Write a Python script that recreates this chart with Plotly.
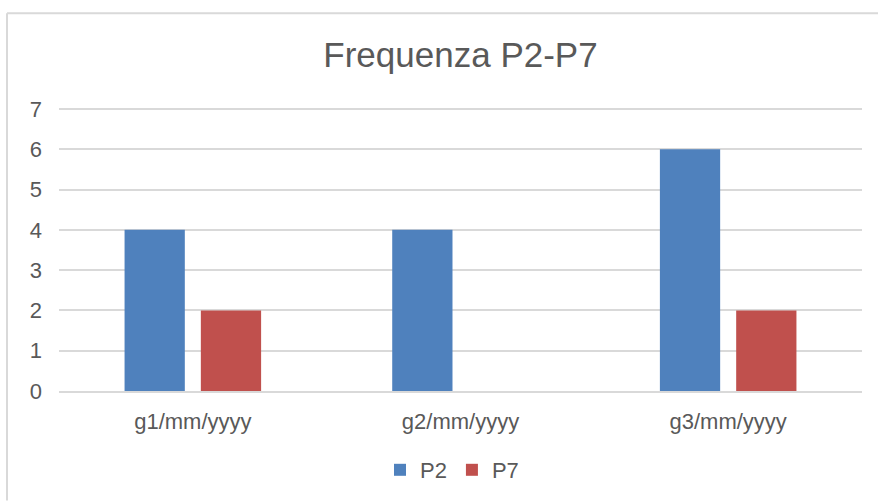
import plotly.graph_objects as go

categories = ['g1/mm/yyyy', 'g2/mm/yyyy', 'g3/mm/yyyy']
p2_values = [4, 4, 6]
p7_values = [2, 0, 2]
y_ticks = [0, 1, 2, 3, 4, 5, 6, 7]

text_color = '#595959'
grid_color = '#d9d9d9'

fig = go.Figure()
fig.add_trace(go.Bar(x=categories, y=p2_values, name='P2', marker_color='#4f81bd',
                     marker_line_width=0))
fig.add_trace(go.Bar(x=categories, y=p7_values, name='P7', marker_color='#c0504d',
                     marker_line_width=0))

W, H = 878, 502
l, r, t, b = 59, 16, 107, 110
pw = W - l - r
ph = H - t - b

def px(x):
    return (x - l) / pw

def py(y):
    return (H - b - y) / ph

fig.update_layout(
    width=W, height=H,
    margin=dict(l=l, r=r, t=t, b=b),
    paper_bgcolor='white', plot_bgcolor='white',
    font=dict(family='Liberation Sans, Arial, sans-serif', color=text_color),
    title=dict(text='Frequenza P2-P7', x=0.5, xref='paper', xanchor='center',
               y=1 - 55 / H, yanchor='middle', font=dict(size=35, color=text_color)),
    barmode='group', bargap=0.43, bargroupgap=0.21,
    showlegend=True,
    legend=dict(orientation='h', x=px(452), xanchor='center', y=py(470), yanchor='middle',
                font=dict(size=22, color=text_color), itemwidth=30, tracegroupgap=0),
    xaxis=dict(showgrid=False, showline=True, linecolor=grid_color, linewidth=2,
               ticks='', ticklabelstandoff=10, tickfont=dict(size=22, color=text_color)),
    yaxis=dict(range=[0, 7.05], tickvals=y_ticks, showgrid=True, gridcolor=grid_color,
               gridwidth=1.5, zeroline=False, showline=False, ticks='',
               ticklabelstandoff=16, tickfont=dict(size=22, color=text_color)),
    shapes=[
        dict(type='line', xref='paper', yref='paper', x0=px(7), x1=px(878), y0=py(13), y1=py(13),
             line=dict(color=grid_color, width=2)),
        dict(type='line', xref='paper', yref='paper', x0=px(7), x1=px(7), y0=py(13), y1=py(502),
             line=dict(color=grid_color, width=2)),
    ],
)

fig.write_html('out.html', config={'displayModeBar': False},
               post_script="document.body.style.margin='0';")
